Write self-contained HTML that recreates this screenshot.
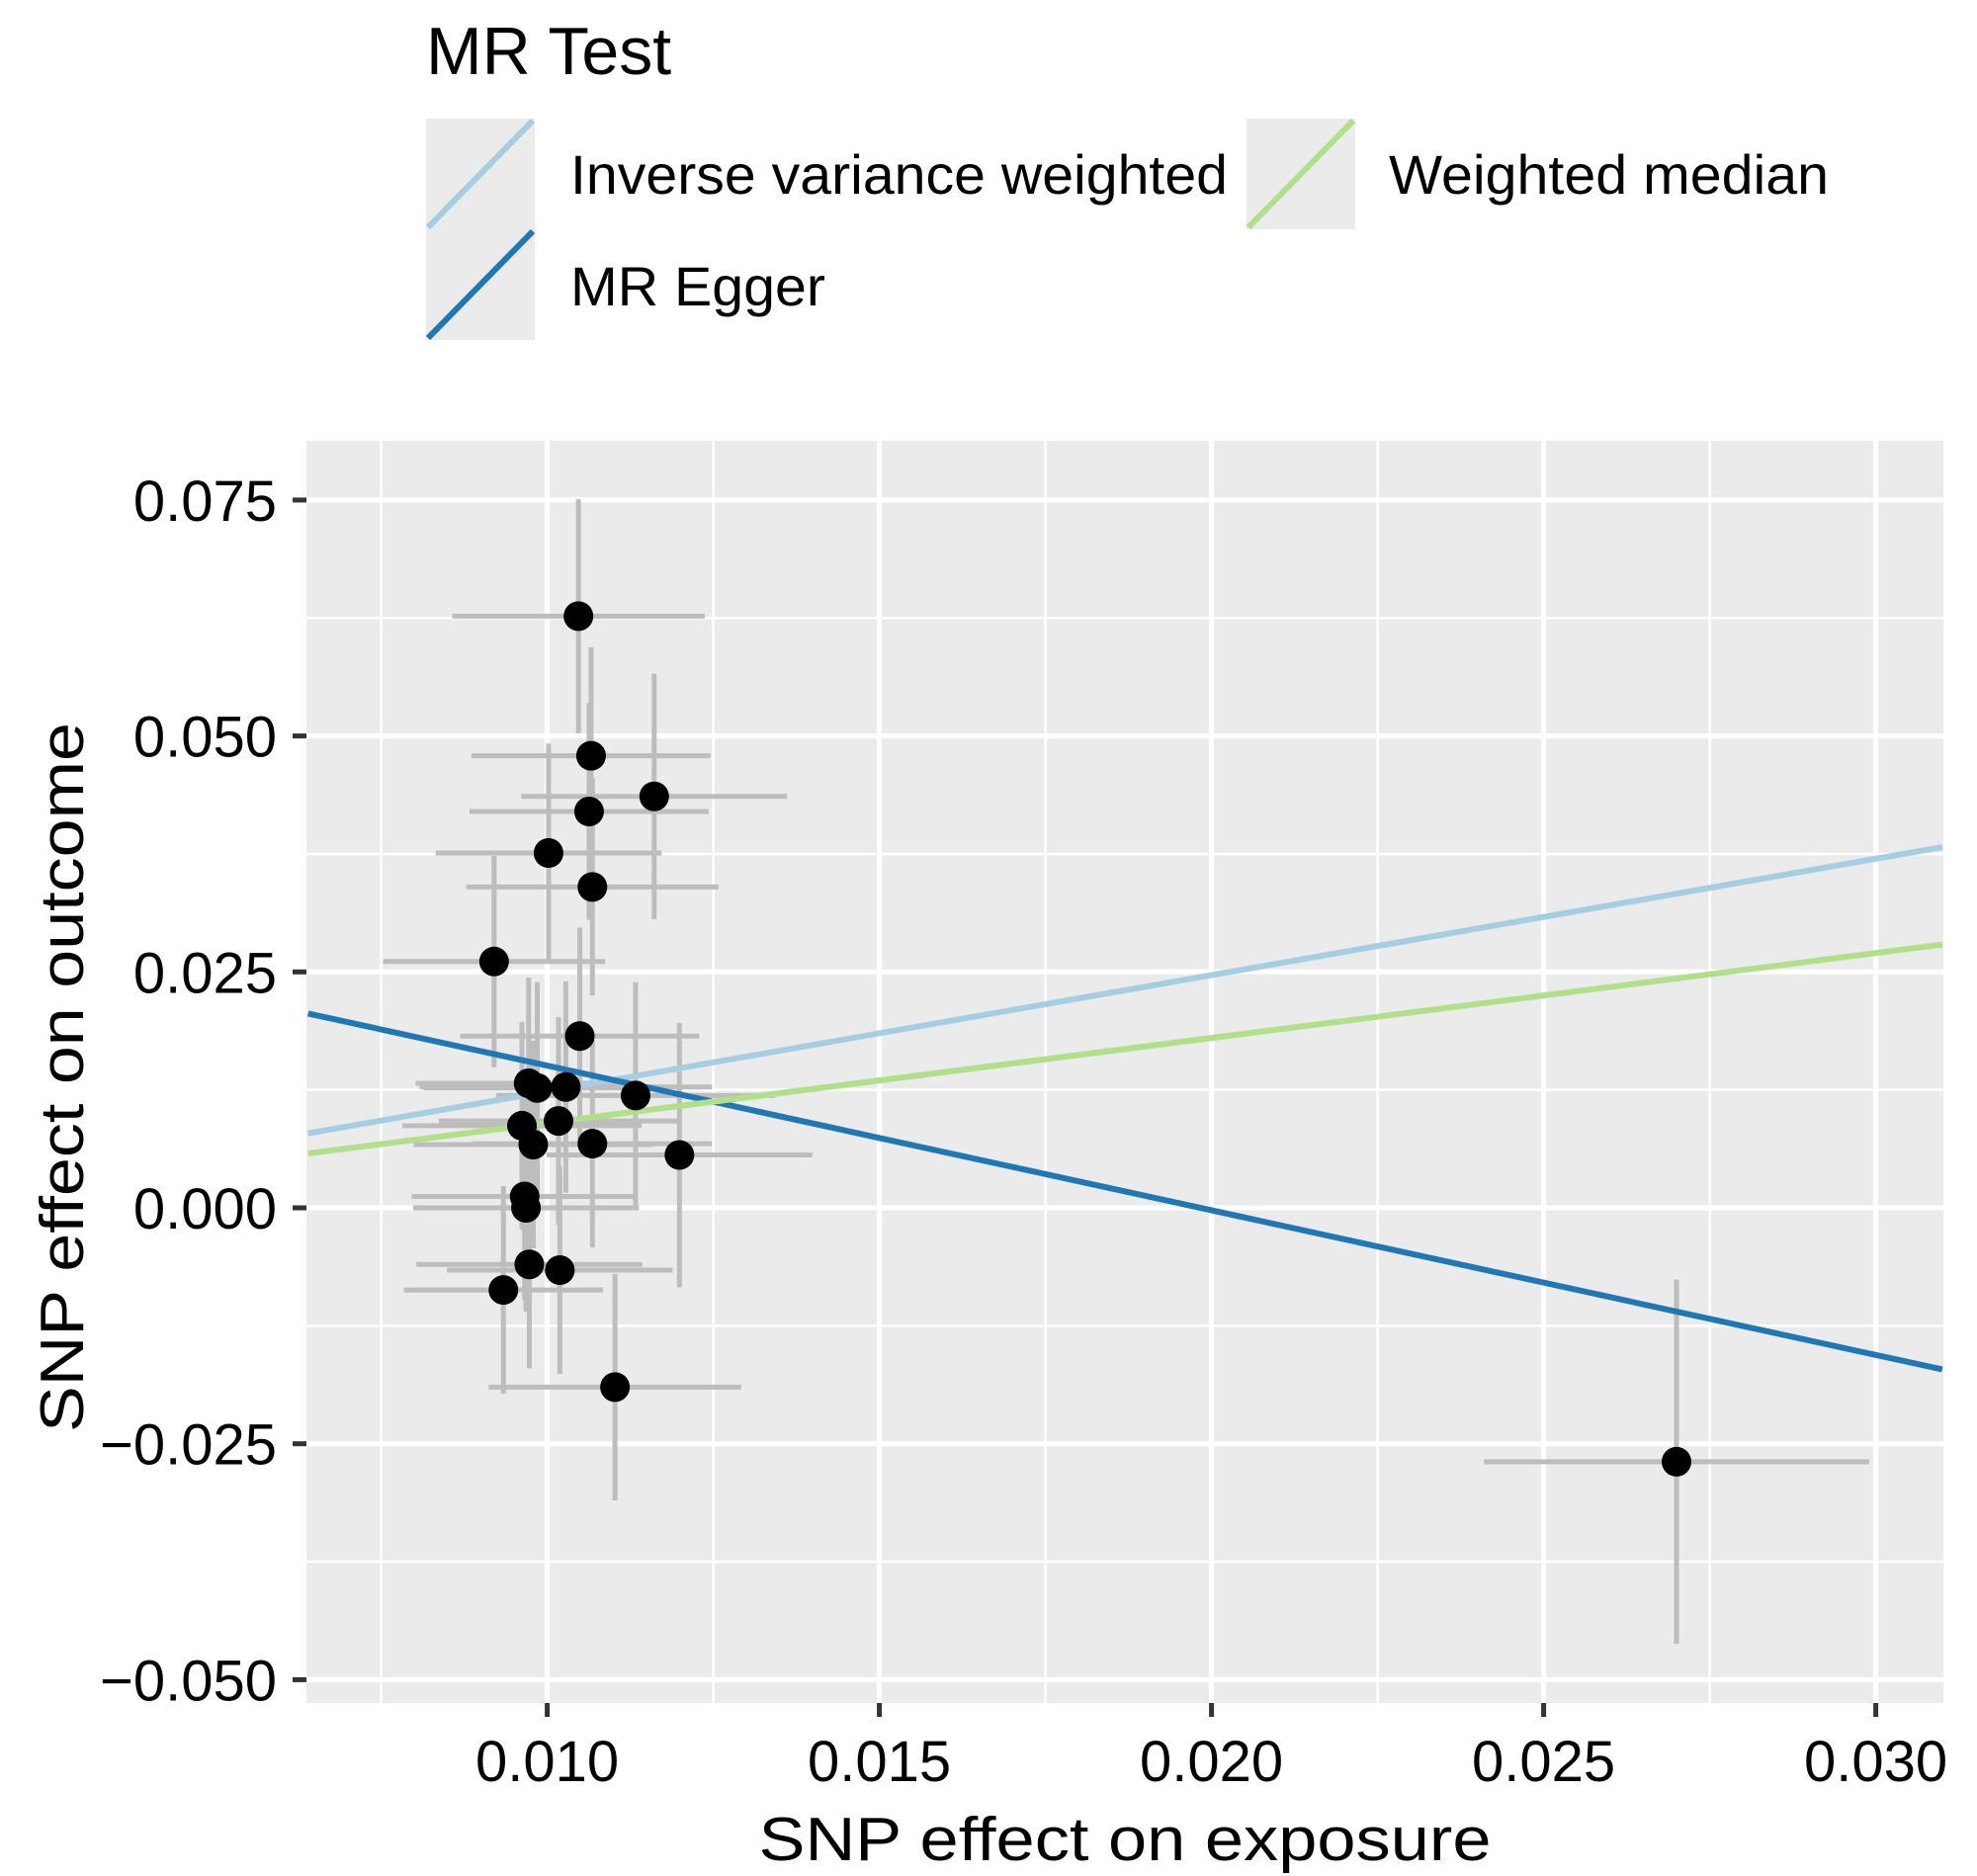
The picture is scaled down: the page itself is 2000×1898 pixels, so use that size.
<!DOCTYPE html>
<html><head><meta charset="utf-8"><style>body{margin:0;background:#fff}svg{display:block;font-family:"Liberation Sans",Arial,sans-serif}</style></head>
<body>
<svg id="chart" width="2000" height="1898" viewBox="0 0 2000 1898" xmlns="http://www.w3.org/2000/svg">
<g>
<text x="431" y="75" font-size="68">MR Test</text>
<g>
<rect x="431" y="120" width="110" height="112" fill="#ebebeb"/>
<line x1="433" y1="230" x2="539" y2="122" stroke="#a6cee3" stroke-width="6"/>
<text x="577" y="196" font-size="56" textLength="665" lengthAdjust="spacingAndGlyphs">Inverse variance weighted</text></g>
<g>
<rect x="431" y="232" width="110" height="112" fill="#ebebeb"/>
<line x1="433" y1="342" x2="539" y2="234" stroke="#1f78b4" stroke-width="6"/>
<text x="577" y="309" font-size="56" textLength="258" lengthAdjust="spacingAndGlyphs">MR Egger</text></g>
<g>
<rect x="1261" y="120" width="110" height="112" fill="#ebebeb"/>
<line x1="1263" y1="230" x2="1369" y2="122" stroke="#b2df8a" stroke-width="6"/>
<text x="1405" y="196" font-size="56" textLength="445" lengthAdjust="spacingAndGlyphs">Weighted median</text></g>
</g>
<rect x="310" y="446" width="1656" height="1277" fill="#ebebeb"/>
<g id="grid"></g>
<g id="axes"></g>
<g id="errs"></g>
<g id="lines"></g>
<g id="pts"></g>
<text x="1138" y="1882" font-size="62" text-anchor="middle" textLength="741" lengthAdjust="spacingAndGlyphs">SNP effect on exposure</text>
<text transform="translate(84,1090) rotate(-90)" font-size="62" text-anchor="middle" textLength="718" lengthAdjust="spacingAndGlyphs">SNP effect on outcome</text>
</svg>
<script>
const bx=[0.01047,0.01066,0.01161,0.01063,0.01002,0.01068,0.0092,0.01049,0.00972,0.00985,0.01028,0.01133,0.00962,0.01017,0.00979,0.01068,0.01199,0.00966,0.00968,0.00973,0.01019,0.00934,0.01102,0.0270];
const by=[0.0627,0.0479,0.0436,0.0420,0.0376,0.0340,0.0261,0.0182,0.0132,0.0127,0.0128,0.0119,0.0087,0.0092,0.0067,0.0068,0.0056,0.0012,0.0000,-0.0060,-0.0066,-0.0087,-0.0190,-0.0269];
const sx=[0.0019,0.0018,0.0020,0.0018,0.0017,0.0019,0.00167,0.0018,0.0017,0.0017,0.0022,0.0021,0.0018,0.0018,0.0018,0.0018,0.0020,0.0017,0.0017,0.0017,0.0017,0.0015,0.0019,0.0029];
const sy=[0.0124,0.0115,0.013,0.0115,0.0116,0.0115,0.0112,0.0115,0.0112,0.0112,0.0112,0.012,0.011,0.011,0.011,0.011,0.014,0.011,0.011,0.011,0.011,0.011,0.012,0.0193];
const lineNames=["ivw","egger","wm"];
const slopes=[1.233,-1.533,0.9];
const intercepts=[0,0.0304,0];
const lineColors=["#a6cee3","#1f78b4","#b2df8a"];
const xTicks=[0.010,0.015,0.020,0.025,0.030];
const yTicks=[0.075,0.050,0.025,0.000,-0.025,-0.050];
const xTickLabels=["0.010","0.015","0.020","0.025","0.030"];
const yTickLabels=["0.075","0.050","0.025","0.000","\u22120.025","\u22120.050"];
const xMin=0.0064,xMax=0.0310;
const X=v=>553.6+(v-0.010)*67200;
const Y=v=>1222-v*9548;
const NS="http://www.w3.org/2000/svg";
function mk(p,t,a){const e=document.createElementNS(NS,t);for(const k in a)e.setAttribute(k,a[k]);p.appendChild(e);return e;}
const grid=document.getElementById('grid'),axes=document.getElementById('axes');
for(let i=0;i<xTicks.length;i++){
 const x=X(xTicks[i]);
 const g=mk(grid,'line',{x1:x,x2:x,y1:446,y2:1723,stroke:'#fff','stroke-width':5});
 
 
 const xm=X(xTicks[i]-0.0025);
 const gm=mk(grid,'line',{x1:xm,x2:xm,y1:446,y2:1723,stroke:'#fff','stroke-width':2.5});
 
 
 const t=mk(axes,'line',{x1:x,x2:x,y1:1723,y2:1737,stroke:'#333','stroke-width':5});
 
 
 const l=mk(axes,'text',{x:x,y:1802,'font-size':58,'text-anchor':'middle',fill:'#000'});l.textContent=xTickLabels[i];
 
 
}
for(let i=0;i<yTicks.length;i++){
 const y=Y(yTicks[i]);
 const g=mk(grid,'line',{x1:310,x2:1966,y1:y,y2:y,stroke:'#fff','stroke-width':5});
 
 
 if(i<yTicks.length-1){const ym=Y(yTicks[i]-0.0125);
 const gm=mk(grid,'line',{x1:310,x2:1966,y1:ym,y2:ym,stroke:'#fff','stroke-width':2.5});
 
 }
 const t=mk(axes,'line',{x1:296,x2:310,y1:y,y2:y,stroke:'#333','stroke-width':5});
 
 
 const l=mk(axes,'text',{x:280,y:y+21,'font-size':58,'text-anchor':'end',fill:'#000'});l.textContent=yTickLabels[i];
 
 
}
const errs=document.getElementById('errs'),pts=document.getElementById('pts'),lines=document.getElementById('lines');
for(let i=0;i<bx.length;i++){
 const h=mk(errs,'line',{x1:X(bx[i]-sx[i]),x2:X(bx[i]+sx[i]),y1:Y(by[i]),y2:Y(by[i]),stroke:'#bdbdbd','stroke-width':5});
 
 
 const v=mk(errs,'line',{x1:X(bx[i]),x2:X(bx[i]),y1:Y(by[i]-sy[i]),y2:Y(by[i]+sy[i]),stroke:'#bdbdbd','stroke-width':5});
 
 
}
for(let i=0;i<lineNames.length;i++){
 const l=mk(lines,'line',{x1:X(xMin),x2:X(xMax),y1:Y(intercepts[i]+slopes[i]*xMin),y2:Y(intercepts[i]+slopes[i]*xMax),stroke:lineColors[i],'stroke-width':6});
 
 
}
for(let i=0;i<bx.length;i++){
 const c=mk(pts,'circle',{cx:X(bx[i]),cy:Y(by[i]),r:15,fill:'#000'});
 
 
}
</script>
</body></html>
